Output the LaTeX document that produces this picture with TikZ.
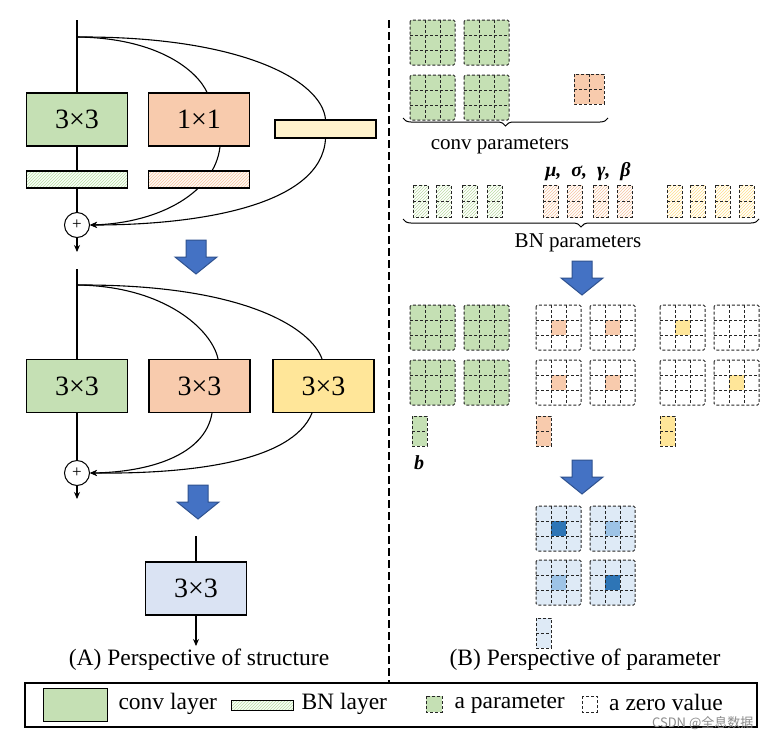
\documentclass[tikz,border=0pt]{standalone}
\usepackage{fontspec}
\setmainfont{Liberation Serif}
\newfontfamily\cjkfont{Noto Sans CJK SC}
\usetikzlibrary{arrows.meta,patterns,decorations.pathreplacing}
\definecolor{cgreen}{HTML}{C5E0B4}
\definecolor{corange}{HTML}{F8CBAD}
\definecolor{cyellow}{HTML}{FFE699}
\definecolor{cpale}{HTML}{FFF2CC}
\definecolor{cblue}{HTML}{DAE3F3}
\definecolor{arrowblue}{HTML}{4472C4}
\definecolor{arrowedge}{HTML}{2F528F}
\definecolor{gridblue}{HTML}{DEEAF6}
\definecolor{darkblue}{HTML}{2E75B6}
\definecolor{midblue}{HTML}{9DC3E6}
\definecolor{hatchgreen}{HTML}{BBDBA5}
\definecolor{hatchorange}{HTML}{F6C4A2}
\definecolor{hatchyellow}{HTML}{FFE08A}
\pgfdeclarelayer{back}
\pgfdeclarelayer{bg}
\pgfsetlayers{back,bg,main}
\tikzset{
  layer/.style={draw, line width=1.2pt, minimum width=101pt, minimum height=53pt, inner sep=0pt, font=\fontsize{28}{30}\selectfont},
  bnbar/.style={draw, line width=1.1pt, minimum width=101pt, minimum height=17pt, inner sep=0pt},
  plusnode/.style={draw, circle, line width=1pt, minimum size=25pt, inner sep=0pt, font=\fontsize{17}{17}\selectfont},
  conn/.style={line width=1.1pt},
  tip/.style={-{Stealth[length=7pt,width=6pt]}},
  gridline/.style={line width=1pt, dash pattern=on 3pt off 2pt, draw=black!85},
  caption/.style={font=\fontsize{23.5}{26}\selectfont},
  label/.style={font=\fontsize{21}{24}\selectfont},
  blueshape/.style={fill=arrowblue, draw=arrowedge, line width=1pt},
}
\newcommand\kgrid[4]{%
  \fill[#3, rounded corners=1.5pt] (#1,#2) rectangle ++(45,45);
  \ifx\relax#4\relax\else\fill[#4] ({#1+15},{#2+15}) rectangle ++(15,15);\fi
  \draw[gridline, rounded corners=1.5pt] (#1,#2) rectangle ++(45,45);
  \draw[gridline] ({#1+15},#2) -- ++(0,45) ({#1+30},#2) -- ++(0,45)
        (#1,{#2+15}) -- ++(45,0) (#1,{#2+30}) -- ++(45,0);}
\newcommand\bnrect[3]{%
  \fill[white] (#1,#2) rectangle ++(15,32);
  \fill[pattern=north east lines, pattern color=#3] (#1,#2) rectangle ++(15,32);
  \draw[gridline] (#1,#2) rectangle ++(15,32) (#1,{#2+16}) -- ++(15,0);}
\newcommand\biasrect[3]{%
  \fill[#3] (#1,#2) rectangle ++(15,30);
  \draw[gridline] (#1,#2) rectangle ++(15,30) (#1,{#2+15}) -- ++(15,0);}
\newcommand\bluedown[2]{%
  \draw[blueshape] ({#1-10},#2) -- ({#1+10},#2) -- ({#1+10},{#2+17}) -- ({#1+21},{#2+17})
     -- (#1,{#2+34}) -- ({#1-21},{#2+17}) -- ({#1-10},{#2+17}) -- cycle;}
\begin{document}
\begin{tikzpicture}[x=1pt,y=-1pt]
\useasboundingbox (0,0) rectangle (767,737);
\begin{pgfonlayer}{back}
\fill[white] (0,0) rectangle (767,737);
\end{pgfonlayer}

% ---------- (A) top section ----------
\coordinate (top1) at (77,20);
\coordinate (br1) at (77,37);
\node[layer, fill=cgreen] (c3) at (77,119.5) {3×3};
\node[layer, fill=corange] (c1) at (199,119.5) {1×1};
\node[draw, line width=1.1pt, fill=cpale, minimum width=101pt, minimum height=18pt, inner sep=0pt] (pale) at (325.5,129) {};
\node[bnbar, preaction={fill=green!3}, pattern=north east lines, pattern color=hatchgreen] (bn1) at (77,179.5) {};
\node[bnbar, preaction={fill=orange!5}, pattern=north east lines, pattern color=hatchorange] (bn2) at (199,179.5) {};
\node[plusnode, fill=white] (plus1) at (77,225) {+};
\coordinate (out1) at (77,252);
\begin{pgfonlayer}{bg}
\draw[conn] (top1) -- (c3.north);
\draw[conn] (c3.south) -- (bn1.north);
\draw[conn] (bn1.south) -- (plus1.north);
\draw[conn] (br1) .. controls (160,38) and (198,72) .. ([xshift=8pt]c1.north);
\draw[conn] (br1) .. controls (240,36) and (322,80) .. (pale.north);
\draw[conn, tip] ([xshift=21pt]c1.south) .. controls (215,192) and (160,223) .. (plus1.east);
\draw[conn, tip] (pale.south) .. controls (322,205) and (200,225) .. (plus1.east);
\end{pgfonlayer}
\draw[conn, tip] (plus1.south) -- (out1);

\bluedown{196}{240}

% ---------- (A) middle section ----------
\coordinate (top2) at (77,269);
\coordinate (br2) at (77,285);
\node[layer, fill=cgreen] (g2) at (77,386) {3×3};
\node[layer, fill=corange] (o2) at (199.5,386) {3×3};
\node[layer, fill=cyellow] (y2) at (323.5,386) {3×3};
\node[plusnode, fill=white] (plus2) at (77,473) {+};
\coordinate (out2) at (77,499);
\begin{pgfonlayer}{bg}
\draw[conn] (top2) -- (g2.north);
\draw[conn] (g2.south) -- (plus2.north);
\draw[conn] (br2) .. controls (165,286) and (212,330) .. ([xshift=18.5pt]o2.north);
\draw[conn] (br2) .. controls (248,284) and (312,330) .. ([xshift=-1.5pt]y2.north);
\draw[conn, tip] ([xshift=12.5pt]o2.south) .. controls (205,455) and (150,472) .. (plus2.east);
\draw[conn, tip] ([xshift=-11.5pt]y2.south) .. controls (292,462) and (190,474) .. (plus2.east);
\end{pgfonlayer}
\draw[conn, tip] (plus2.south) -- (out2);

\bluedown{198}{485}

% ---------- (A) bottom ----------
\coordinate (top3) at (196,536);
\node[layer, fill=cblue] (fb) at (196,588.5) {3×3};
\coordinate (out3) at (196,646);
\draw[conn] (top3) -- (fb.north);
\draw[conn, tip] (fb.south) -- (out3);
\node[caption] (capA) at (199,660) {(A) Perspective of structure};

% ---------- separator ----------
\draw[line width=2.5pt, dash pattern=on 8pt off 4pt] (389,20) -- (389,683);

% ---------- (B) conv parameters ----------
\kgrid{410}{20}{cgreen}{}
\kgrid{464}{20}{cgreen}{}
\kgrid{410}{75}{cgreen}{}
\kgrid{464}{75}{cgreen}{}
\fill[corange] (574,74) rectangle ++(30,30);
\draw[gridline] (574,74) rectangle ++(30,30) (589,74) -- ++(0,30) (574,89) -- ++(30,0);
\draw[line width=1pt, decorate, decoration={brace, mirror, amplitude=8pt}] (403,118) -- (608,118);
\node[label] (convlab) at (500,146) {conv parameters};

% ---------- BN parameters ----------
\node[font=\fontsize{20}{22}\selectfont\bfseries\itshape] (greek) at (588,172) {μ,\ \ σ,\ \ γ,\ \ β};
\bnrect{413}{185}{hatchgreen}
\bnrect{436}{185}{hatchgreen}
\bnrect{462}{185}{hatchgreen}
\bnrect{487}{185}{hatchgreen}
\bnrect{543}{185}{hatchorange}
\bnrect{567}{185}{hatchorange}
\bnrect{593}{185}{hatchorange}
\bnrect{617}{185}{hatchorange}
\bnrect{667}{185}{hatchyellow}
\bnrect{690}{185}{hatchyellow}
\bnrect{715}{185}{hatchyellow}
\bnrect{739}{185}{hatchyellow}
\draw[line width=1pt, decorate, decoration={brace, mirror, amplitude=8pt}] (403,219) -- (759,219);
\node[label] (bnlab) at (578,243) {BN parameters};

\bluedown{582}{261}

% ---------- converted kernels ----------
\kgrid{410}{305}{cgreen}{}
\kgrid{464}{305}{cgreen}{}
\kgrid{410}{360}{cgreen}{}
\kgrid{464}{360}{cgreen}{}
\kgrid{536}{305}{white}{corange}
\kgrid{590}{305}{white}{corange}
\kgrid{536}{360}{white}{corange}
\kgrid{590}{360}{white}{corange}
\kgrid{660}{305}{white}{cyellow}
\kgrid{714}{305}{white}{}
\kgrid{660}{360}{white}{}
\kgrid{714}{360}{white}{cyellow}
\biasrect{412}{416}{cgreen}
\biasrect{536}{416}{corange}
\biasrect{660}{416}{cyellow}
\node[font=\fontsize{20}{22}\selectfont\bfseries\itshape] (blab) at (419,463) {b};

\bluedown{582}{460}

% ---------- merged kernel ----------
\kgrid{536}{506}{gridblue}{darkblue}
\kgrid{590}{506}{gridblue}{midblue}
\kgrid{536}{560}{gridblue}{midblue}
\kgrid{590}{560}{gridblue}{darkblue}
\biasrect{536}{618}{gridblue}
\node[caption] (capB) at (585,660) {(B) Perspective of parameter};

% ---------- legend ----------
\draw[line width=2pt] (25,683) rectangle (757,727);
\node[draw, line width=1pt, fill=cgreen, minimum width=64pt, minimum height=33pt, inner sep=0pt] (lgconv) at (75,705) {};
\node[caption, anchor=west] (lgconvt) at (115,704) {conv layer};
\node[draw, line width=1pt, preaction={fill=green!3}, pattern=north east lines, pattern color=hatchgreen, minimum width=62pt, minimum height=10pt, inner sep=0pt] (lgbn) at (262,705) {};
\node[caption, anchor=west] (lgbnt) at (298,704) {BN layer};
\fill[cgreen] (426,696) rectangle ++(16,16);
\draw[gridline] (426,696) rectangle ++(16,16);
\node[caption, anchor=west] (lgpar) at (451,704) {a parameter};
\draw[gridline] (582,696) rectangle ++(15,16);
\node[caption, anchor=west, inner sep=1pt] (lgzero) at (608,702) {a zero value};
\node[font=\cjkfont\fontsize{13}{14}\selectfont, text=black!45, anchor=east, inner sep=0.5pt] (wm) at (754,723) {CSDN @全息数据};
\end{tikzpicture}
\end{document}
